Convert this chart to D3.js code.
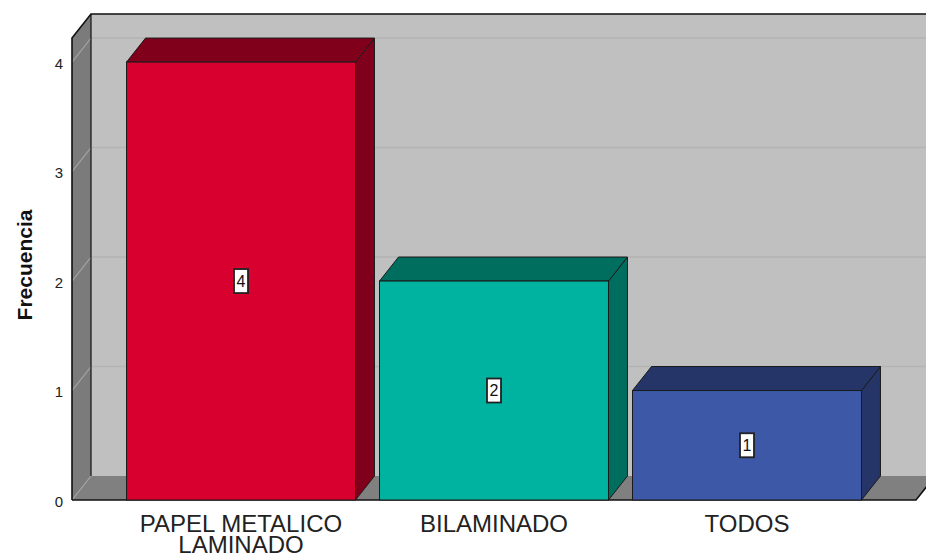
<!DOCTYPE html>
<html>
<head>
<meta charset="utf-8">
<script src="https://cdn.jsdelivr.net/npm/d3@7"></script>
<style>
  html, body { margin: 0; padding: 0; background: #fff; }
  svg { display: block; font-family: "Liberation Sans", Arial, sans-serif; }
</style>
</head>
<body>
<svg id="chart" width="926" height="556"></svg>
<script>
// Frequencies per category
const categories = ["PAPEL METALICO LAMINADO", "BILAMINADO", "TODOS"];
const frecuencias = [4, 2, 1];
const yTicks = [0, 1, 2, 3, 4];
const frontColors = ["#D7002F", "#00B3A0", "#3D58A7"];
const depthColors = ["#80001C", "#006E5F", "#263568"];
const axisTitle = "Frecuencia";

const plotLeft = 72, plotRight = 916, plotBottom = 500, plotTop = 38;
const dx = 19, dy = -24;   // 3D depth offset

const svg = d3.select("#chart");

const y = d3.scaleLinear().domain([0, 4.22]).range([plotBottom, plotTop]);
const x = d3.scaleBand().domain(categories).range([plotLeft, plotRight])
  .paddingInner(0.095).paddingOuter(0.2155);

const pts = a => a.map(p => p.join(",")).join(" ");

// Back wall
svg.append("polygon")
  .attr("points", pts([[plotLeft + dx, plotTop + dy], [plotRight + dx, plotTop + dy], [plotRight + dx, plotBottom + dy], [plotLeft + dx, plotBottom + dy]]))
  .attr("fill", "#C0C0C0");

// Left side wall
svg.append("polygon")
  .attr("points", pts([[plotLeft, plotTop], [plotLeft + dx, plotTop + dy], [plotLeft + dx, plotBottom + dy], [plotLeft, plotBottom]]))
  .attr("fill", "#7B7B7B");

// Floor
svg.append("polygon")
  .attr("points", pts([[plotLeft, plotBottom], [plotLeft + dx, plotBottom + dy], [plotRight + dx, plotBottom + dy], [plotRight, plotBottom]]))
  .attr("fill", "#808080");

// Gridlines on back wall and side wall
const grid = svg.append("g");
yTicks.forEach(v => {
  if (v > 0) {
    grid.append("line")
      .attr("x1", plotLeft + dx).attr("x2", plotRight + dx)
      .attr("y1", y(v) + dy).attr("y2", y(v) + dy)
      .attr("stroke", "#B3B3B3").attr("stroke-width", 1.5);
  }
  grid.append("line")
    .attr("x1", plotLeft).attr("y1", y(v))
    .attr("x2", plotLeft + dx).attr("y2", y(v) + dy)
    .attr("stroke", "#A2A2A2").attr("stroke-width", 1.2);
});

// Frame edges
const frame = svg.append("g").attr("stroke", "#111").attr("fill", "none");
frame.append("path")
  .attr("d", `M${plotLeft},${plotBottom}V${plotTop}L${plotLeft + dx},${plotTop + dy}H${plotRight + dx}`)
  .attr("stroke-width", 1.6);
frame.append("path")
  .attr("d", `M${plotLeft + dx},${plotTop + dy}V${plotBottom + dy}`)
  .attr("stroke-width", 1.2);
frame.append("path")
  .attr("d", `M${plotLeft},${plotBottom}H${plotRight}L${plotRight + dx},${plotBottom + dy}`)
  .attr("stroke-width", 1.6);

// Bars
const bars = svg.append("g").selectAll("g").data(categories).join("g");
bars.each(function (c, i) {
  const g = d3.select(this);
  const x0 = x(c), x1 = x(c) + x.bandwidth();
  const yt = y(frecuencias[i]), yb = y(0);
  g.append("polygon")
    .attr("points", pts([[x1, yt], [x1 + dx, yt + dy], [x1 + dx, yb + dy], [x1, yb]]))
    .attr("fill", depthColors[i]).attr("stroke", "#1b1b1b").attr("stroke-width", 1)
    .attr("stroke-linejoin", "round");
  g.append("polygon")
    .attr("points", pts([[x0, yt], [x0 + dx, yt + dy], [x1 + dx, yt + dy], [x1, yt]]))
    .attr("fill", depthColors[i]).attr("stroke", "#1b1b1b").attr("stroke-width", 1)
    .attr("stroke-linejoin", "round");
  g.append("rect")
    .attr("x", x0).attr("y", yt).attr("width", x1 - x0).attr("height", yb - yt)
    .attr("fill", frontColors[i]).attr("stroke", "#1b1b1b").attr("stroke-width", 1);

  // Value label at mid-height of the bar
  const cx = x0 + x.bandwidth() / 2, cy = y(frecuencias[i] / 2);
  g.append("rect")
    .attr("x", cx - 7).attr("y", cy - 12).attr("width", 14).attr("height", 24)
    .attr("fill", "#fff").attr("stroke", "#222").attr("stroke-width", 1.8);
  g.append("text")
    .attr("x", cx).attr("y", cy).attr("dy", "0.36em")
    .attr("text-anchor", "middle").attr("font-size", 16).attr("fill", "#111")
    .text(frecuencias[i]);
});

// Y axis tick labels
const yAxis = svg.append("g")
  .attr("transform", `translate(${plotLeft},0)`)
  .call(d3.axisLeft(y).tickValues(yTicks).tickSize(0).tickPadding(9).tickFormat(d3.format("d")));
yAxis.select(".domain").remove();
yAxis.selectAll("text").attr("font-size", 15).attr("fill", "#222")
  .attr("font-family", "Liberation Sans, Arial, sans-serif").attr("dy", "0.42em");

// Axis title
svg.append("text")
  .attr("transform", `translate(32,265) rotate(-90)`)
  .attr("text-anchor", "middle").attr("font-size", 21).attr("font-weight", "bold").attr("fill", "#111")
  .text(axisTitle);

// Category labels, wrapped to the bar width
const catLabels = svg.append("g").selectAll("text").data(categories).join("text")
  .attr("text-anchor", "middle").attr("font-size", 24).attr("fill", "#222")
  .attr("x", d => x(d) + x.bandwidth() / 2).attr("y", 532);
catLabels.each(function (d) {
  const t = d3.select(this);
  const cx = +t.attr("x");
  const words = d.split(" ");
  let line = [];
  let tspan = t.append("tspan").attr("x", cx).attr("dy", 0);
  words.forEach(w => {
    line.push(w);
    tspan.text(line.join(" "));
    if (tspan.node().getComputedTextLength() > x.bandwidth() && line.length > 1) {
      line.pop();
      tspan.text(line.join(" "));
      line = [w];
      tspan = t.append("tspan").attr("x", cx).attr("dy", 21).text(w);
    }
  });
});
</script>
</body>
</html>
